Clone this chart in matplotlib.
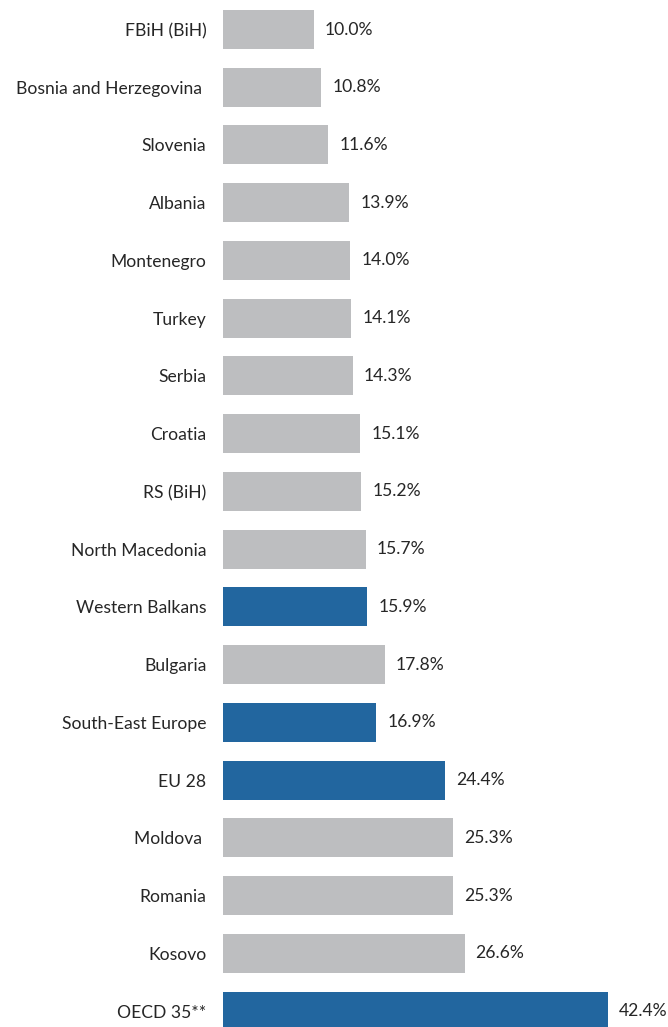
import matplotlib
matplotlib.use('Agg')
import matplotlib.pyplot as plt

plt.rcParams['font.family'] = ['Lato', 'DejaVu Sans']

categories = ['FBiH (BiH)', 'Bosnia and Herzegovina ', 'Slovenia', 'Albania', 'Montenegro',
              'Turkey', 'Serbia', 'Croatia', 'RS (BiH)', 'North Macedonia', 'Western Balkans',
              'Bulgaria', 'South-East Europe', 'EU 28', 'Moldova ', 'Romania', 'Kosovo',
              'OECD 35**']
values = [10.0, 10.8, 11.6, 13.9, 14.0, 14.1, 14.3, 15.1, 15.2, 15.7, 15.9,
          17.8, 16.9, 24.4, 25.3, 25.3, 26.6, 42.4]
aggregates = ['Western Balkans', 'South-East Europe', 'EU 28', 'OECD 35**']

gray = '#BDBEC0'
blue = '#22669F'
colors = [blue if c in aggregates else gray for c in categories]

fig = plt.figure(figsize=(6.68, 10.27), dpi=100)
ax = fig.add_axes([223 / 668, 0, 445 / 668, 1])

pos = list(range(len(categories)))
bars = ax.barh(pos, values, height=0.675, color=colors)

for b, v in zip(bars, values):
    ax.annotate(f'{v:.1f}%', (b.get_width(), b.get_y() + b.get_height() / 2),
                xytext=(8, 0), textcoords='offset points',
                va='center', ha='left', fontsize=12.6, color='#262626')

ax.set_xlim(0, 445 / 9.08)
ax.set_ylim(len(categories) - 1 + 0.277, -0.511)
ax.set_yticks(pos)
ax.set_yticklabels(categories, fontsize=12.6, color='#262626')
ax.tick_params(axis='y', length=0, pad=12)
ax.set_xticks([])
for s in ax.spines.values():
    s.set_visible(False)

fig.savefig('out.png', dpi=100)
